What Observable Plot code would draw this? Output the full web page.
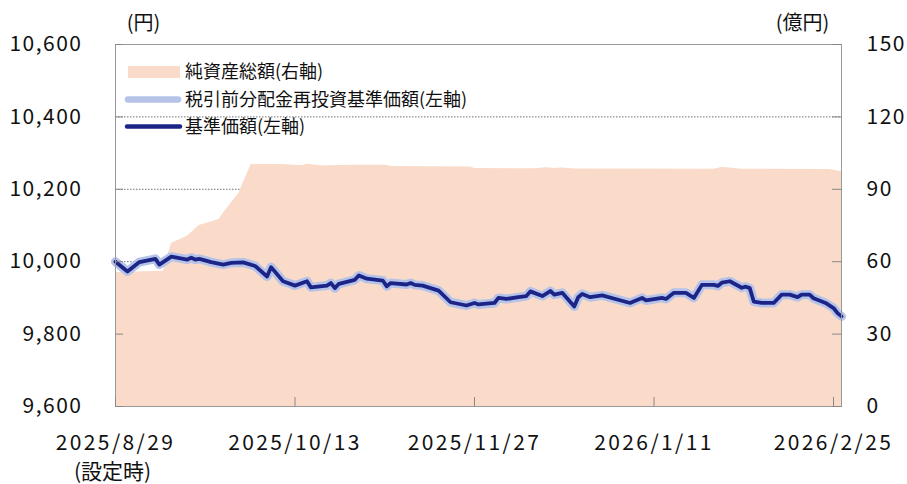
<!DOCTYPE html>
<html><head><meta charset="utf-8">
<script src="https://cdn.jsdelivr.net/npm/d3@7"></script>
<script src="https://cdn.jsdelivr.net/npm/@observablehq/plot@0.6"></script>
<style>
body{margin:0;background:#fff;}
#wrap{position:relative;width:907px;height:484px;font-family:"Noto Sans CJK JP",sans-serif;color:#111;}
#legend{position:absolute;left:0;top:0;width:907px;height:484px;pointer-events:none;}
</style></head><body><div id="wrap"></div>
<script>
// ---- data ----
const lineDates = ["2025-08-29","2025-09-01","2025-09-04","2025-09-08","2025-09-09","2025-09-12","2025-09-16","2025-09-17","2025-09-18","2025-09-19","2025-09-22","2025-09-25","2025-09-27","2025-09-30","2025-10-03","2025-10-06","2025-10-07","2025-10-10","2025-10-13","2025-10-16","2025-10-17","2025-10-21","2025-10-22","2025-10-23","2025-10-24","2025-10-28","2025-10-29","2025-10-31","2025-11-04","2025-11-05","2025-11-06","2025-11-10","2025-11-11","2025-11-12","2025-11-14","2025-11-18","2025-11-21","2025-11-25","2025-11-27","2025-11-28","2025-11-30","2025-12-02","2025-12-03","2025-12-05","2025-12-08","2025-12-10","2025-12-11","2025-12-14","2025-12-16","2025-12-17","2025-12-19","2025-12-22","2025-12-23","2025-12-24","2025-12-26","2025-12-29","2026-01-02","2026-01-05","2026-01-06","2026-01-08","2026-01-09","2026-01-13","2026-01-14","2026-01-16","2026-01-19","2026-01-21","2026-01-23","2026-01-26","2026-01-27","2026-01-28","2026-01-30","2026-02-02","2026-02-03","2026-02-04","2026-02-05","2026-02-07","2026-02-10","2026-02-12","2026-02-14","2026-02-16","2026-02-17","2026-02-19","2026-02-20","2026-02-23","2026-02-25","2026-02-26","2026-02-27"];
const baseValues = [10000,9973,9999,10008,9992,10014,10006,10011,10006,10008,9999,9992,9997,9998,9988,9959,9985,9946,9934,9946,9929,9934,9941,9927,9939,9950,9962,9953,9948,9932,9941,9937,9941,9936,9934,9920,9888,9879,9886,9882,9884,9886,9900,9897,9902,9905,9918,9905,9919,9909,9914,9876,9902,9911,9902,9907,9895,9886,9891,9900,9893,9900,9897,9914,9914,9900,9936,9936,9933,9942,9946,9928,9931,9927,9890,9886,9886,9909,9909,9902,9909,9909,9899,9886,9872,9858,9849];
const reinvestValues = [10000,9973,9999,10008,9992,10014,10006,10011,10006,10008,9999,9992,9997,9998,9988,9959,9985,9946,9934,9946,9929,9934,9941,9927,9939,9950,9962,9953,9948,9932,9941,9937,9941,9936,9934,9920,9888,9879,9886,9882,9884,9886,9900,9897,9902,9905,9918,9905,9919,9909,9914,9876,9902,9911,9902,9907,9895,9886,9891,9900,9893,9900,9897,9914,9914,9900,9936,9936,9933,9942,9946,9928,9931,9927,9890,9886,9886,9909,9909,9902,9909,9909,9899,9886,9872,9858,9849];
const navDates = ["2025-08-29","2025-09-10","2025-09-12","2025-09-16","2025-09-19","2025-09-24","2025-09-25","2025-09-29","2025-09-30","2025-10-02","2025-10-10","2025-10-13","2025-10-15","2025-10-16","2025-10-20","2025-10-24","2025-10-28","2025-11-05","2025-11-06","2025-11-26","2025-11-27","2025-12-12","2025-12-15","2025-12-17","2025-12-19","2025-12-22","2026-01-26","2026-01-28","2026-01-30","2026-02-02","2026-02-24","2026-02-26","2026-02-27"];
const navValues = [55.5,56,67.5,70.5,75,77.5,80,88.5,92.5,100.3,100.3,100,99.8,100.4,99.7,99.9,100,100,99.4,99.2,98.6,98.5,98.9,98.6,98.8,98.4,98.3,99,98.8,98.3,98.2,97.6,97.3];
const leftTicks = [9600,9800,10000,10200,10400,10600];
const rightTicks = [0,30,60,90,120,150];
const gridTicks = [10000,10200,10400];
const xTicks = ["2025-08-29","2025-10-13","2025-11-27","2026-01-11","2026-02-25"];
const xDomain = ["2025-08-29","2026-02-27"];
const legendLabels = ["純資産総額(右軸)","税引前分配金再投資基準価額(左軸)","基準価額(左軸)"];
const unitLeft = "(円)", unitRight = "(億円)", startNote = "(設定時)";

// ---- build ----
const parse = d3.utcParse("%Y-%m-%d");
const yMin = 9600, yMax = 10600, rMax = 150;
const toLeft = v => yMin + v * (yMax - yMin) / rMax;
const lineBase = lineDates.map((d, i) => ({date: parse(d), v: baseValues[i]}));
const lineRe = lineDates.map((d, i) => ({date: parse(d), v: reinvestValues[i]}));
const nav = navDates.map((d, i) => ({date: parse(d), v: toLeft(navValues[i])}));
const fmtDate = d => `${d.getUTCFullYear()}/${d.getUTCMonth() + 1}/${d.getUTCDate()}`;

const C_AREA = "#fadac8", C_LIGHT = "#b5c3e9", C_NAVY = "#1c2587";
const FONT = '"Noto Sans CJK JP", sans-serif';

const chart = Plot.plot({
  width: 907, height: 484,
  marginLeft: 115, marginRight: 66, marginTop: 44, marginBottom: 78,
  style: {fontFamily: FONT, color: "#111", background: "#fff"},
  x: {type: "utc", domain: xDomain.map(parse)},
  y: {domain: [yMin, yMax]},
  marks: [
    Plot.ruleY(gridTicks, {stroke: "#707070", strokeDasharray: "1.5,1.5", strokeWidth: 1}),
    Plot.areaY(nav, {x: "date", y1: yMin, y2: "v", fill: C_AREA}),
    Plot.line(lineRe, {x: "date", y: "v", stroke: C_LIGHT, strokeWidth: 9, strokeLinejoin: "round", strokeLinecap: "round"}),
    Plot.line(lineBase, {x: "date", y: "v", stroke: C_NAVY, strokeWidth: 3.8, strokeLinejoin: "round"}),
    Plot.frame({stroke: "#999"}),
    Plot.axisY({anchor: "left", ticks: leftTicks, tickFormat: d3.format(","), tickSize: -8, tickPadding: 41, fontSize: 21, label: null, stroke: "#888"}),
    Plot.axisY({anchor: "right", ticks: rightTicks.map(toLeft), tickFormat: (d, i) => String(rightTicks[i]), tickSize: -10, tickPadding: 35, fontSize: 21, label: null, stroke: "#888"}),
    Plot.axisX({ticks: xTicks.map(parse), tickFormat: fmtDate, tickSize: -9, tickPadding: 38, fontSize: 21, label: null, stroke: "#888"}),
    Plot.text([startNote], {x: () => parse(xTicks[0]), text: d => d, frameAnchor: "bottom", lineAnchor: "middle", textAnchor: "middle", dy: 66, dx: -3, fontSize: 21}),
    Plot.text([unitLeft], {frameAnchor: "top-left", text: d => d, textAnchor: "middle", lineAnchor: "middle", dx: 28, dy: -21, fontSize: 20}),
    Plot.text([unitRight], {frameAnchor: "top-right", text: d => d, textAnchor: "middle", lineAnchor: "middle", dx: -39, dy: -21, fontSize: 20})
  ]
});
d3.select(chart).selectAll('g[aria-label="x-axis tick label"] text').style("letter-spacing", "2.4px");
d3.select(chart).selectAll('g[aria-label="y-axis tick label"] text').style("letter-spacing", "1.5px");
const wrap = document.getElementById("wrap");
wrap.appendChild(chart);

// legend overlay
const ns = "http://www.w3.org/2000/svg";
const leg = document.createElementNS(ns, "svg");
leg.setAttribute("id", "legend");
leg.setAttribute("width", 907); leg.setAttribute("height", 484);
const rows = [72, 99.5, 126.5];
function el(name, attrs, text) {
  const e = document.createElementNS(ns, name);
  for (const k in attrs) e.setAttribute(k, attrs[k]);
  if (text) e.textContent = text;
  leg.appendChild(e);
}
el("rect", {x: 128, y: rows[0] - 6, width: 52, height: 12, fill: C_AREA});
el("line", {x1: 128, x2: 178, y1: rows[1], y2: rows[1], stroke: C_LIGHT, "stroke-width": 6.5, "stroke-linecap": "round"});
el("line", {x1: 127, x2: 180, y1: rows[2], y2: rows[2], stroke: C_NAVY, "stroke-width": 4.5, "stroke-linecap": "round"});
legendLabels.forEach((t, i) => el("text", {x: 185, y: rows[i], dy: "0.36em", "font-size": 18, "font-family": FONT, fill: "#111"}, t));
wrap.appendChild(leg);
</script></body></html>
